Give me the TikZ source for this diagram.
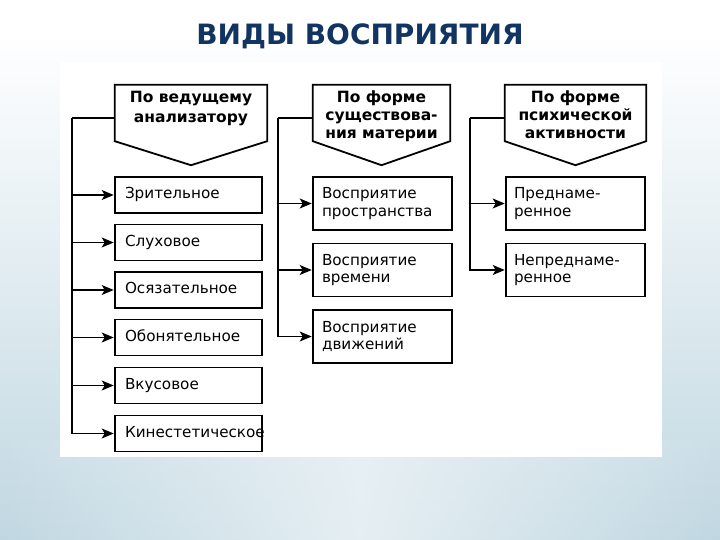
\documentclass[tikz,border=0pt]{standalone}
\usepackage{fontspec}
\setmainfont{DejaVu Sans}
\usetikzlibrary{arrows.meta,calc,fadings}
\hyphenpenalty=10000
\exhyphenpenalty=10000
\definecolor{navy}{RGB}{18,52,98}
\definecolor{bgblue}{RGB}{168,200,214}
\definecolor{bglight}{RGB}{236,243,246}
\newcommand\bxfont{\fontsize{15.2}{17.5}\selectfont}
\newcommand\hdfont{\bfseries\fontsize{15.5}{18}\selectfont}
\pgfdeclareverticalshading{bgv}{100bp}{color(0bp)=(bgblue); color(20bp)=(bgblue!80!white); color(72bp)=(white); color(100bp)=(white)}
\tikzfading[name=midfade,left color=transparent!100,right color=transparent!100,middle color=transparent!15]
\begin{document}
\begin{tikzpicture}[x=1pt,y=-1pt,
  conn/.style={line width=1.3pt},
  arr/.style={line width=1.3pt,-{Stealth[length=12pt,width=10pt,inset=3pt]},shorten >=0.5pt},
  box/.style={draw,line width=1.6pt,minimum width=147pt,minimum height=36pt,text width=127pt,
    align=left,inner xsep=10pt,inner ysep=0pt,font=\bxfont,text height=11pt,text depth=3.5pt},
  boxb/.style={draw,line width=1.6pt,minimum width=139pt,minimum height=53pt,text width=121pt,
    align=left,inner xsep=9pt,inner ysep=0pt,font=\bxfont},
  hdr/.style={draw=none,inner sep=0pt,minimum height=56pt},
  hdrline/.style={line width=1.8pt,line join=miter},
  hdrtxt/.style={inner sep=0pt,anchor=north,align=center,font=\hdfont}
]
\useasboundingbox (0,0) rectangle (720,540);
% background
\shade[shading=bgv] (0,0) rectangle (720,540);
\fill[bglight,path fading=midfade] (0,440) rectangle (720,540);
\fill[white] (60,62) rectangle (662,457);

% title
\node[anchor=base,text=navy,inner sep=0pt,font=\bfseries\fontsize{28}{30}\selectfont] (title) at (360,45) {ВИДЫ ВОСПРИЯТИЯ};

% headers
\node[hdr,minimum width=152pt] (h1) at (191,113) {};
\node[hdr,minimum width=137pt] (h2) at (381.5,113) {};
\node[hdr,minimum width=141pt] (h3) at (575.5,113) {};
\foreach \h in {h1,h2,h3}{
  \draw[hdrline] (\h.north west) -- (\h.north east) -- (\h.south east) -- ($(\h.south)+(0,24)$) -- (\h.south west) -- cycle;
}
\node[hdrtxt,font=\bfseries\fontsize{15.5}{20}\selectfont] (h1t) at (191,91) {По ведущему\\анализатору};
\node[hdrtxt] (h2t) at (381.5,91) {По форме\\существова-\\ния материи};
\node[hdrtxt] (h3t) at (575.5,91) {По форме\\психической\\активности};

% column 1 boxes
\node[box] (a1) at (188.5,195) {Зрительное};
\node[box] (a2) at (188.5,242.5) {Слуховое};
\node[box] (a3) at (188.5,290) {Осязательное};
\node[box] (a4) at (188.5,337.5) {Обонятельное};
\node[box] (a5) at (188.5,385.5) {Вкусовое};
\node[box] (a6) at (188.5,433.5) {Кинестетическое};

% column 2 boxes
\node[boxb] (m1) at (382.5,203.5) {Восприятие\\пространства};
\node[boxb] (m2) at (382.5,270) {Восприятие\\времени};
\node[boxb] (m3) at (382.5,336.5) {Восприятие\\движений};

% column 3 boxes
\node[boxb,inner xsep=8pt,text width=123pt] (p1) at (575.5,203.5) {Преднаме-\\ренное};
\node[boxb,inner xsep=8pt,text width=123pt] (p2) at (575.5,270) {Непреднаме-\\ренное};

% trunks
\coordinate (t1) at (72,118);
\coordinate (t2) at (278,118);
\coordinate (t3) at (470,118);

\draw[conn] (t1) -- (h1.west |- t1);
\draw[arr] (t1) |- (a6.west);
\foreach \b in {a1,a2,a3,a4,a5}{\draw[arr] (t1 |- \b.west) -- (\b.west);}

\draw[conn] (t2) -- (h2.west |- t2);
\draw[arr] (t2) |- (m3.west);
\foreach \b in {m1,m2}{\draw[arr] (t2 |- \b.west) -- (\b.west);}

\draw[conn] (t3) -- (h3.west |- t3);
\draw[arr] (t3) |- (p2.west);
\draw[arr] (t3 |- p1.west) -- (p1.west);
\end{tikzpicture}
\end{document}
